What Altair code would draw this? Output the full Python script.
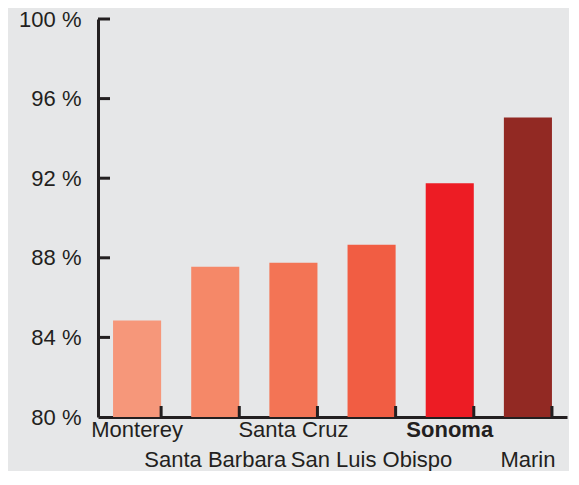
import altair as alt
import pandas as pd

counties = ["Monterey", "Santa Barbara", "Santa Cruz", "San Luis Obispo", "Sonoma", "Marin"]
values = [84.85, 87.55, 87.75, 88.65, 91.75, 95.05]
colors = ["#f6977a", "#f58868", "#f37455", "#f15d43", "#ed1c24", "#922923"]
second_row = ["Santa Barbara", "San Luis Obispo", "Marin"]
highlight = "Sonoma"
y_ticks = [80, 84, 88, 92, 96, 100]

df = pd.DataFrame({"county": counties, "value": values, "color": colors})
ticks_df = pd.DataFrame({"t": y_ticks[1:]})

W, H = 469, 398
INK = "#231f20"
FONT = "Liberation Sans"

second_js = "[" + ",".join("'" + s + "'" for s in second_row) + "]"

xscale = alt.Scale(domain=counties, paddingInner=0.385, paddingOuter=0.1925)
yscale = alt.Scale(domain=[80, 100], nice=False, zero=False)

bars = alt.Chart(df).mark_bar().encode(
    x=alt.X("county:N", sort=counties, scale=xscale,
            axis=alt.Axis(title=None, labelAngle=0, ticks=False, domain=True,
                          domainColor=INK, domainWidth=3,
                          labelFont=FONT, labelFontSize=22, labelColor=INK,
                          labelPadding=2, labelBaseline="top", labelLineHeight=30,
                          labelFontWeight=alt.condition(f"datum.value == '{highlight}'",
                                                        alt.value("bold"), alt.value("normal")),
                          labelExpr=f"indexof({second_js}, datum.value) >= 0 ? ['', datum.value] : datum.value",
                          labelOverlap=False, labelBound=False, labelFlush=False)),
    y=alt.Y("value:Q", scale=yscale,
            axis=alt.Axis(title=None, values=y_ticks, ticks=False, grid=False,
                          domainColor=INK, domainWidth=3,
                          labelFont=FONT, labelFontSize=22, labelColor=INK,
                          labelPadding=17, labelExpr="datum.value + ' %'")),
    y2=alt.datum(80),
    color=alt.Color("color:N", scale=None),
)

xticks = alt.Chart(df).mark_rule(color=INK, strokeWidth=3).encode(
    x=alt.X("county:N", sort=counties, scale=xscale, bandPosition=1),
    y=alt.value(H - 11),
    y2=alt.value(H),
)

yticks = alt.Chart(ticks_df).mark_rule(color=INK, strokeWidth=3).encode(
    y=alt.Y("t:Q", scale=yscale),
    x=alt.value(0),
    x2=alt.value(12),
)

chart = alt.layer(bars, xticks, yticks).properties(
    width=W, height=H,
    background="#e6e7e8",
    padding={"left": 90, "top": 11, "right": 2, "bottom": 54},
    autosize=alt.AutoSizeParams(type="none"),
).configure_view(stroke=None)

chart.save("out.html", embed_options={"renderer": "svg", "actions": False})
